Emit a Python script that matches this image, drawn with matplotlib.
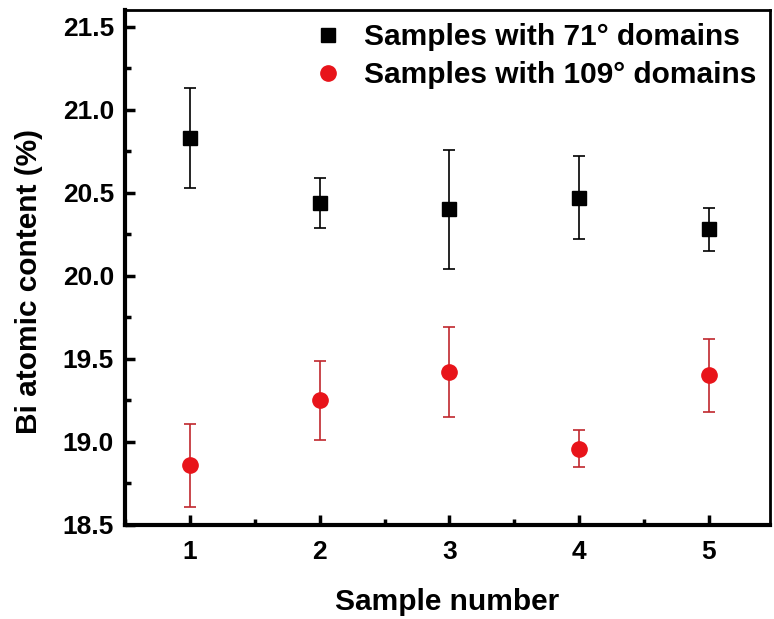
import matplotlib
matplotlib.use("Agg")
import matplotlib.pyplot as plt
from matplotlib.ticker import MultipleLocator

samples = [1, 2, 3, 4, 5]
bi_71 = [20.83, 20.44, 20.40, 20.47, 20.28]
err_71 = [0.30, 0.15, 0.36, 0.25, 0.13]
bi_109 = [18.86, 19.25, 19.42, 18.96, 19.40]
err_109 = [0.25, 0.24, 0.27, 0.11, 0.22]
xtick_labels = ["1", "2", "3", "4", "5"]
yticks = [18.5, 19.0, 19.5, 20.0, 20.5, 21.0, 21.5]

plt.rcParams['font.family'] = ['Liberation Sans', 'DejaVu Sans']
plt.rcParams['font.weight'] = 'bold'

fig = plt.figure(figsize=(7.74, 6.19), dpi=100)
ax = fig.add_axes([125/774, 1-525/619, (770-125)/774, (525-10)/619])

c1 = ax.errorbar(samples, bi_71, yerr=err_71, fmt='s', color='black', ms=10.5,
                 ecolor='black', elinewidth=1.2, capsize=4, capthick=1.2,
                 label='Samples with 71° domains')
c2 = ax.errorbar(samples, bi_109, yerr=err_109, fmt='o', color='#e8141a', ms=11,
                 ecolor='#c0282d', elinewidth=1.2, capsize=4, capthick=1.2,
                 label='Samples with 109° domains')

ax.set_xlim(0.5, 5.47)
ax.set_ylim(18.5, 21.6)
ax.set_xticks(samples)
ax.set_xticklabels(xtick_labels)
ax.set_yticks(yticks)
ax.set_yticklabels([f"{v:.1f}" for v in yticks])
ax.xaxis.set_minor_locator(MultipleLocator(0.5))
ax.yaxis.set_minor_locator(MultipleLocator(0.25))
ax.tick_params(which='both', direction='in', top=False, right=False,
               labelsize=19, width=2.5)
ax.tick_params(which='major', length=7)
ax.tick_params(axis='x', which='major', pad=11)
ax.tick_params(axis='y', which='major', pad=8)
ax.tick_params(which='minor', length=4)
for lab in ax.get_xticklabels() + ax.get_yticklabels():
    lab.set_fontweight('bold')

for side in ['left', 'bottom']:
    ax.spines[side].set_linewidth(3)
for side in ['top', 'right']:
    ax.spines[side].set_linewidth(2)

ax.set_xlabel('Sample number', fontsize=21.5, fontweight='bold', labelpad=17)
ax.set_ylabel('Bi atomic content (%)', fontsize=21.5, fontweight='bold')
ax.yaxis.set_label_coords(-0.127, 0.472)

leg = ax.legend([c1[0], c2[0]], [c1.get_label(), c2.get_label()],
                loc='upper right', frameon=False, fontsize=21.5,
                handletextpad=0.6, borderaxespad=0.25, borderpad=0.2,
                labelspacing=0.33, handlelength=1.2,
                bbox_to_anchor=(1.0, 1.0))
for t in leg.get_texts():
    t.set_fontweight('bold')

fig.savefig('out.png', dpi=100)
